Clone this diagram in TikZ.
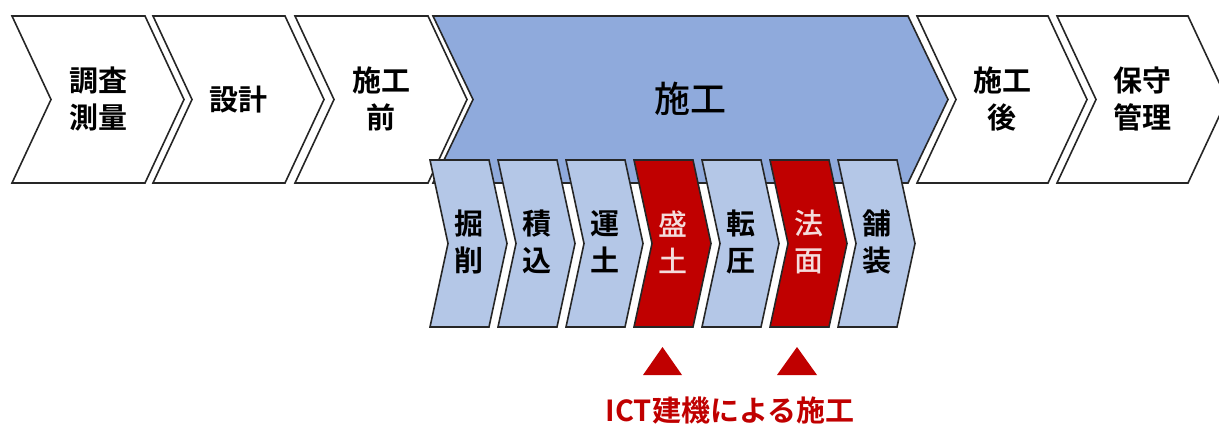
\documentclass[tikz,border=0pt]{standalone}
\usepackage{fontspec}
\setmainfont{Noto Sans CJK JP}[BoldFont={Noto Sans CJK JP Bold}]
\newfontfamily\medium{Noto Sans CJK JP Medium}
\definecolor{sekou}{HTML}{8FAADC}
\definecolor{kotei}{HTML}{B4C7E7}
\definecolor{ictred}{HTML}{C00000}
\definecolor{pinkw}{HTML}{F4DCDC}

% chevron: left x, top y, top width, height, tip depth, style
\newcommand{\chev}[6]{%
  \draw[#6] (#1,#2) -- ++(#3,0) -- ++(#5,#4/2) -- ++(-#5,#4/2) -- ++(-#3,0)
    -- ++(#5,-#4/2) -- cycle;}

\begin{document}
\begin{tikzpicture}[x=0.5pt,y=-0.5pt,
    edge/.style={draw=black!85,line width=0.8pt,line join=miter},
    lbl/.style={align=center,font=\fontsize{14.5}{18.5}\selectfont\bfseries},
    lblm/.style={align=center,font=\fontsize{14.5}{18.5}\selectfont\medium},
    redlbl/.style={lblm,text=pinkw}]
    \useasboundingbox (0,0) rectangle (1219,423);

    \chev{12}{16}{133}{167}{39}{edge,fill=white}
    \chev{153}{16}{132}{167}{39}{edge,fill=white}
    \chev{295}{16}{133}{167}{39}{edge,fill=white}
    \chev{433}{16}{475}{167}{40}{edge,fill=sekou}
    \chev{917}{16}{131}{167}{39}{edge,fill=white}
    \chev{1057}{16}{131}{167}{39}{edge,fill=white}

    \node[lbl] (chosa) at (98,99) {調査\\測量};
    \node[lbl] (sekkei) at (238,100) {設計};
    \node[lbl] (mae) at (381,99) {施工\\前};
    \node[lblm,font=\fontsize{18}{22}\selectfont\medium] (sekou) at (690,99) {施工};
    \node[lbl] (ato) at (1002,99) {施工\\後};
    \node[lbl] (hoshu) at (1142,99) {保守\\管理};

    \foreach \i/\a/\b/\fc/\st in {0/掘/削/kotei/lbl,1/積/込/kotei/lbl,
        2/運/土/kotei/lbl,3/盛/土/ictred/redlbl,4/転/圧/kotei/lbl,
        5/法/面/ictred/redlbl,6/舗/装/kotei/lbl} {
      \chev{430+68*\i}{160}{59}{167}{18}{edge,fill=\fc}
      \node[\st] (sub\i) at (430+68*\i+38.5,242) {\a\\\b};
    }

    \fill[ictred] (643,375) -- (682,375) -- (662.5,347) -- cycle;
    \fill[ictred] (777,375) -- (817,375) -- (797,347) -- cycle;
    \node[lbl,text=ictred] (ict) at (730,411) {ICT建機による施工};
\end{tikzpicture}
\end{document}
